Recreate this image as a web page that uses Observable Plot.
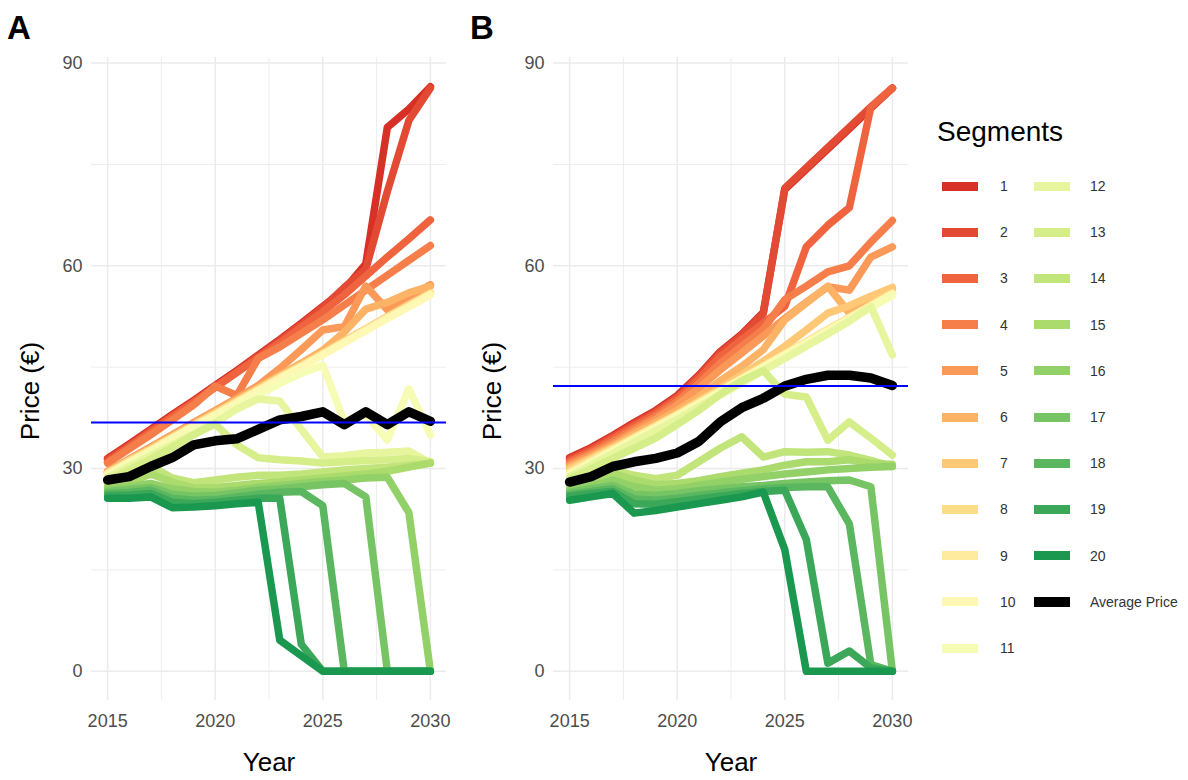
<!DOCTYPE html>
<html><head><meta charset="utf-8">
<script src="https://cdn.jsdelivr.net/npm/d3@7"></script>
<script src="https://cdn.jsdelivr.net/npm/@observablehq/plot@0.6"></script>
<style>
body{margin:0;background:#fff;font-family:"Liberation Sans",Arial,sans-serif;}
#wrap{position:relative;width:1188px;height:780px;overflow:hidden;background:#fff;}
.panel{position:absolute;top:0;}
.tag{position:absolute;font-weight:bold;font-size:33px;line-height:33px;color:#000;}
.ltitle{position:absolute;left:937px;top:116px;font-size:28px;line-height:32px;color:#000;}
.key{position:absolute;width:36px;height:9px;}
.lab{position:absolute;font-size:14px;line-height:16px;color:#333;white-space:nowrap;}
</style></head><body><div id="wrap"></div>
<script>
const years = [2015,2016,2017,2018,2019,2020,2021,2022,2023,2024,2025,2026,2027,2028,2029,2030];
const segmentNames = ["1","2","3","4","5","6","7","8","9","10","11","12","13","14","15","16","17","18","19","20"];
const averageName = "Average Price";
const brewerRdYlGn = ["#d73027","#f46d43","#fdae61","#fee08b","#ffffbf","#d9ef8b","#a6d96a","#66bd63","#1a9850"];

// Panel A
const A1  = [31.5,33.6,35.8,38.0,40.1,42.3,44.5,46.8,49.1,51.5,54.0,56.5,60.3,80.5,83.2,86.5];
const A2  = [31.3,33.4,35.6,37.8,39.9,42.1,44.3,46.6,48.9,51.3,53.8,56.8,59.5,71.0,81.5,86.3];
const A3  = [31.0,33.2,35.4,37.6,39.8,42.0,44.2,46.4,48.6,50.9,53.2,55.7,58.5,61.3,64.0,66.8];
const A4  = [30.8,32.9,35.0,37.2,39.4,42.2,40.8,46.3,48.0,50.0,52.0,54.2,56.4,58.6,60.8,63.0];
const A5  = [29.6,31.4,33.2,35.0,36.8,38.6,40.4,42.3,44.8,47.6,50.5,51.0,57.0,53.5,55.3,57.2];
const A6  = [29.5,31.3,33.0,34.8,36.6,38.4,40.2,42.0,43.8,45.6,47.5,50.2,53.6,54.6,56.0,57.0];
const A7  = [29.4,31.2,32.9,34.7,36.5,38.2,40.0,41.8,43.6,45.3,47.1,48.9,50.7,52.5,54.3,56.0];
const A8  = [29.3,31.1,32.8,34.6,36.4,38.1,39.9,41.7,43.5,45.2,47.0,48.8,50.6,52.4,54.1,55.9];
const A9  = [29.2,31.0,32.7,34.5,36.3,38.0,39.8,41.6,43.4,45.1,46.9,48.7,50.5,52.3,54.0,55.8];
const A10 = [29.1,30.9,32.6,34.4,36.2,37.9,39.7,41.5,43.3,45.0,46.8,48.6,50.4,52.2,53.9,55.7];
const A11 = [29.0,30.7,32.4,34.1,35.8,37.5,39.2,40.9,42.6,44.1,45.3,37.0,38.0,34.2,41.8,35.0];
const A12 = [28.7,30.3,31.9,33.5,35.1,36.8,38.8,40.3,40.0,35.8,31.7,31.9,32.3,32.4,32.6,30.8];
const A13 = [28.3,29.8,31.4,33.1,35.0,36.6,33.5,31.6,31.3,31.1,30.8,31.0,31.2,31.3,31.5,31.0];
const A14 = [27.8,28.9,30.4,28.6,27.9,28.3,28.7,29.0,29.0,29.2,29.5,29.8,30.0,30.2,30.5,30.8];
const A15 = [27.3,27.9,29.2,28.0,27.1,27.2,27.5,27.8,28.0,28.3,28.6,28.9,29.2,29.6,30.2,30.8];
const A16 = [27.0,27.3,27.8,27.0,26.6,26.5,26.8,27.2,27.5,27.8,28.1,28.3,28.6,28.7,23.5,0];
const A17 = [26.6,26.9,27.2,26.2,25.9,26.0,26.4,26.8,27.0,27.3,27.6,27.8,25.8,0,0,0];
const A18 = [26.3,26.5,26.8,25.6,25.3,25.4,25.8,26.2,26.5,26.6,24.5,0,0,0,0,0];
const A19 = [26.0,26.1,26.3,25.0,24.8,25.0,25.3,25.6,25.6,4.0,0,0,0,0,0,0];
const A20 = [25.6,25.6,25.8,24.2,24.3,24.5,24.8,25.0,4.6,2.3,0,0,0,0,0,0];
const avgA = [28.3,28.8,30.3,31.6,33.5,34.1,34.4,35.8,37.2,37.7,38.4,36.5,38.4,36.5,38.4,37.0];
const refA = 36.8;

// Panel B
const B1  = [31.6,33.1,34.9,36.8,38.6,40.8,43.8,47.3,49.9,53.1,71.3,74.3,77.3,80.3,83.3,86.3];
const B2  = [31.4,32.9,34.7,36.6,38.4,40.6,43.6,47.1,49.7,52.9,71.5,74.5,77.5,80.5,83.5,86.3];
const B3  = [31.1,32.6,34.4,36.3,38.1,40.3,43.2,46.6,49.1,51.5,54.0,62.8,66.0,68.6,83.5,86.3];
const B4  = [30.8,32.3,34.0,35.9,37.7,39.9,42.6,45.6,48.1,50.6,55.0,57.0,59.1,60.0,63.5,66.7];
const B5  = [30.5,32.0,33.6,35.5,37.3,39.4,41.9,44.6,47.1,49.6,52.2,54.6,56.9,56.4,61.3,62.8];
const B6  = [30.2,31.7,33.3,35.1,36.8,38.6,40.6,43.0,45.1,47.6,52.0,54.5,57.0,53.0,54.8,56.6];
const B7  = [30.0,31.5,33.1,34.7,36.4,38.1,40.0,41.9,43.9,45.9,48.1,50.5,53.0,54.1,55.5,56.8];
const B8  = [29.6,31.3,32.9,34.6,36.3,38.0,39.8,41.6,43.4,45.2,47.0,48.8,50.6,52.4,54.2,56.0];
const B9  = [29.4,31.1,32.8,34.5,36.2,37.9,39.7,41.5,43.3,45.1,46.9,48.7,50.5,52.3,54.1,55.9];
const B10 = [29.2,30.9,32.6,34.3,36.0,37.8,39.6,41.4,43.2,45.0,46.8,48.6,50.4,52.2,54.0,55.8];
const B11 = [29.0,30.8,32.5,34.2,35.9,37.6,39.4,41.2,43.0,44.8,46.6,48.4,50.2,52.0,53.8,55.6];
const B12 = [28.8,30.5,32.2,33.9,35.6,37.3,39.1,40.9,42.7,44.5,46.3,48.1,49.9,51.8,54.0,46.8];
const B13 = [28.5,30.0,31.5,33.0,34.5,36.5,38.6,41.0,43.0,44.5,41.0,40.6,34.2,36.9,34.5,32.0];
const B14 = [27.8,28.6,29.8,29.0,28.5,29.0,31.0,33.0,34.7,31.7,32.5,32.4,32.5,32.0,31.2,30.3];
const B15 = [27.2,28.0,29.3,28.3,27.6,27.8,28.2,28.8,29.3,29.8,30.5,31.0,31.0,31.3,30.8,30.6];
const B16 = [26.8,27.4,28.3,27.3,26.8,27.0,27.5,28.0,28.4,28.8,29.2,29.5,29.8,30.0,30.2,30.3];
const B17 = [26.5,27.0,27.5,26.2,26.0,26.3,26.7,27.0,27.3,27.5,27.8,28.0,28.2,28.3,27.3,0];
const B18 = [26.2,26.6,27.0,25.5,25.3,25.6,26.0,26.4,26.7,27.0,27.2,27.3,27.3,21.8,1.0,0];
const B19 = [25.9,26.3,26.6,24.8,24.7,25.1,25.5,25.9,26.3,26.6,26.8,19.5,1.2,3.0,0.5,0];
const B20 = [25.3,25.8,26.3,23.4,23.8,24.3,24.8,25.3,25.8,26.5,18.0,0,0,0,0,0];
const avgB = [28.0,28.8,30.3,31.0,31.5,32.3,34.0,36.9,39.0,40.4,42.2,43.2,43.8,43.8,43.4,42.3];
const refB = 42.2;

const xTicks = [2015,2020,2025,2030];
const xMinor = [2017.5,2022.5,2027.5];
const yTicks = [0,30,60,90];
const yMinor = [15,45,75];

const interp = d3.piecewise(d3.interpolateRgb, brewerRdYlGn);
const palette = segmentNames.map((_, i) => d3.color(interp(i / (segmentNames.length - 1))).formatHex());

function buildRows(series) {
  const rows = [];
  series.forEach((vals, i) => vals.forEach((v, j) => rows.push({year: years[j], price: v, seg: segmentNames[i]})));
  return rows;
}

function panel(series, avg, ref) {
  const rows = buildRows(series);
  const avgRows = avg.map((v, j) => ({year: years[j], price: v}));
  const grid = {stroke: "#ebebeb", strokeOpacity: 1};
  return Plot.plot({
    width: 462, height: 780,
    marginLeft: 91, marginRight: 16, marginTop: 57, marginBottom: 80,
    style: {fontFamily: "'Liberation Sans', Arial, sans-serif", background: "transparent", overflow: "visible"},
    x: {domain: [2014.25, 2030.75]},
    y: {domain: [-4.33, 90.83]},
    color: {domain: segmentNames, range: palette},
    marks: [
      Plot.gridX({ticks: xMinor, ...grid, strokeWidth: 0.9}),
      Plot.gridY({ticks: yMinor, ...grid, strokeWidth: 0.9}),
      Plot.gridX({ticks: xTicks, ...grid, strokeWidth: 1.5}),
      Plot.gridY({ticks: yTicks, ...grid, strokeWidth: 1.5}),
      Plot.line(rows, {x: "year", y: "price", z: "seg", stroke: "seg", strokeWidth: 7.5, strokeLinejoin: "round"}),
      Plot.line(avgRows, {x: "year", y: "price", stroke: "#000", strokeWidth: 9.5, strokeLinejoin: "round"}),
      Plot.ruleY([ref], {stroke: "#0000ff", strokeWidth: 2}),
      Plot.axisX({ticks: xTicks, tickSize: 0, tickPadding: 14, fontSize: 18, color: "#4d4d4d", tickFormat: d => String(d), label: null}),
      Plot.axisY({ticks: yTicks, tickSize: 0, tickPadding: 9, fontSize: 18, color: "#4d4d4d", label: null}),
      Plot.text(["Year"], {frameAnchor: "bottom", dy: 70, fontSize: 26, fill: "#000"}),
      Plot.text(["Price (€)"], {frameAnchor: "left", textAnchor: "middle", rotate: -90, dx: -61, dy: 12, fontSize: 26, fill: "#000"})
    ]
  });
}

const wrap = document.getElementById("wrap");
const pA = panel([A1,A2,A3,A4,A5,A6,A7,A8,A9,A10,A11,A12,A13,A14,A15,A16,A17,A18,A19,A20], avgA, refA);
pA.classList.add("panel"); pA.style.left = "0px";
const pB = panel([B1,B2,B3,B4,B5,B6,B7,B8,B9,B10,B11,B12,B13,B14,B15,B16,B17,B18,B19,B20], avgB, refB);
pB.classList.add("panel"); pB.style.left = "462px";
wrap.appendChild(pA); wrap.appendChild(pB);

const tagLabels = ["A", "B"];
[[7, 11], [470, 11]].forEach(([l, t], i) => {
  const d = document.createElement("div");
  d.className = "tag"; d.style.left = l + "px"; d.style.top = t + "px"; d.textContent = tagLabels[i];
  wrap.appendChild(d);
});

// legend
const title = document.createElement("div");
title.className = "ltitle"; title.textContent = "Segments";
wrap.appendChild(title);
const legendItems = segmentNames.map((s, i) => ({label: s, color: palette[i]})).concat([{label: averageName, color: "#000"}]);
legendItems.forEach((it, i) => {
  const col = Math.floor(i / 11), row = i % 11;
  const cy = 186 + row * 46.2;
  const k = document.createElement("div");
  k.className = "key"; k.style.background = it.color;
  k.style.left = (col ? 1034 : 942) + "px"; k.style.top = (cy - 4.5) + "px";
  if (it.label === averageName) { k.style.height = "10px"; }
  wrap.appendChild(k);
  const t = document.createElement("div");
  t.className = "lab"; t.textContent = it.label;
  t.style.left = (col ? 1090 : 1000) + "px"; t.style.top = (cy - 8) + "px";
  wrap.appendChild(t);
});
</script></body></html>
